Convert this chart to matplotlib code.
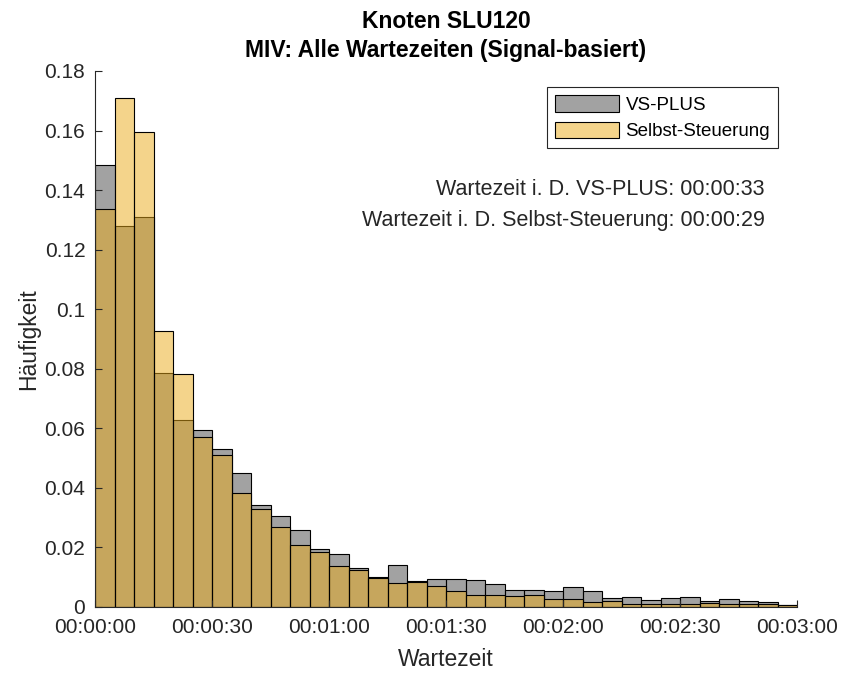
import matplotlib
matplotlib.use("Agg")
import matplotlib.pyplot as plt
from matplotlib.ticker import FuncFormatter, FixedLocator
from matplotlib.patches import Patch
import numpy as np

plt.rcParams['font.family'] = ['Liberation Sans', 'DejaVu Sans']

# Histogram data: relative frequency per 5-second bin (0 .. 180 s)
bin_width_s = 5
vs_plus = [0.1483, 0.1281, 0.1309, 0.0787, 0.0628, 0.0596, 0.0531, 0.0449, 0.0342,
           0.0305, 0.0257, 0.0196, 0.0177, 0.0130, 0.0102, 0.0141, 0.0086, 0.0095,
           0.0095, 0.0092, 0.0078, 0.0057, 0.0056, 0.0054, 0.0067, 0.0054, 0.0029,
           0.0032, 0.0025, 0.0029, 0.0032, 0.0021, 0.0026, 0.0021, 0.0016, 0.0008]
selbst = [0.1338, 0.1709, 0.1594, 0.0926, 0.0782, 0.0570, 0.0510, 0.0382, 0.0330,
          0.0267, 0.0208, 0.0186, 0.0137, 0.0123, 0.0099, 0.0082, 0.0084, 0.0071,
          0.0054, 0.0041, 0.0041, 0.0036, 0.0041, 0.0026, 0.0028, 0.0018, 0.0019,
          0.0011, 0.0009, 0.0009, 0.0009, 0.0012, 0.0011, 0.0010, 0.0010, 0.0008]
series_names = ["VS-PLUS", "Selbst-Steuerung"]
mean_labels = ["Wartezeit i. D. VS-PLUS: 00:00:33",
               "Wartezeit i. D. Selbst-Steuerung: 00:00:29"]
x_ticks_s = [0, 30, 60, 90, 120, 150, 180]
y_ticks = [0, 0.02, 0.04, 0.06, 0.08, 0.1, 0.12, 0.14, 0.16, 0.18]

gray_face = (100/255, 100/255, 100/255, 0.6)
yellow_face = (235/255, 171/255, 25/255, 0.5)
axis_color = '#262626'

fig = plt.figure(figsize=(8.42, 6.73), dpi=100)
ax = fig.add_axes([95/842, 66/673, 702/842, 536/673])

left_edges = np.arange(len(vs_plus)) * bin_width_s
ax.bar(left_edges, vs_plus, width=bin_width_s, align='edge', color=gray_face,
       edgecolor='black', linewidth=0.8)
ax.bar(left_edges, selbst, width=bin_width_s, align='edge', color=yellow_face,
       edgecolor='black', linewidth=0.8)

ax.set_xlim(0, 180)
ax.set_ylim(0, 0.18)

def fmt_time(v, pos):
    v = int(round(v))
    return f"{v // 3600:02d}:{(v % 3600) // 60:02d}:{v % 60:02d}"

ax.xaxis.set_major_locator(FixedLocator(x_ticks_s))
ax.xaxis.set_major_formatter(FuncFormatter(fmt_time))
ax.yaxis.set_major_locator(FixedLocator(y_ticks))
ax.yaxis.set_major_formatter(FuncFormatter(lambda v, p: f"{v:g}"))

for s in ['top', 'right']:
    ax.spines[s].set_visible(False)
for s in ['left', 'bottom']:
    ax.spines[s].set_color(axis_color)
    ax.spines[s].set_linewidth(0.8)

ax.tick_params(axis='both', direction='in', length=5, width=0.8,
               colors=axis_color, labelsize=15)
ax.tick_params(axis='x', pad=8)
ax.tick_params(axis='y', pad=7)

ax.set_xlabel("Wartezeit", fontsize=16.5, color=axis_color, labelpad=8)
ax.set_ylabel("Häufigkeit", fontsize=16.5, color=axis_color, labelpad=3)
ax.set_title("Knoten SLU120\nMIV: Alle Wartezeiten (Signal-basiert)",
             fontsize=16.5, fontweight='bold', color='black', pad=10, linespacing=1.35)

handles = [Patch(facecolor=gray_face, edgecolor='black', linewidth=0.8),
           Patch(facecolor=yellow_face, edgecolor='black', linewidth=0.8)]
leg = ax.legend(handles, series_names, loc='upper right',
                bbox_to_anchor=(0.973, 0.970), fontsize=13.5, fancybox=False,
                framealpha=1, edgecolor=axis_color, handlelength=3.4,
                handleheight=1.0, handletextpad=0.35, labelspacing=0.42,
                borderpad=0.42, borderaxespad=0)
leg.get_frame().set_linewidth(0.8)

ax.text(0.954, 0.778, mean_labels[0], transform=ax.transAxes, ha='right',
        va='center', fontsize=15.5, color=axis_color)
ax.text(0.954, 0.722, mean_labels[1], transform=ax.transAxes, ha='right',
        va='center', fontsize=15.5, color=axis_color)

fig.savefig("out.png", dpi=100)
